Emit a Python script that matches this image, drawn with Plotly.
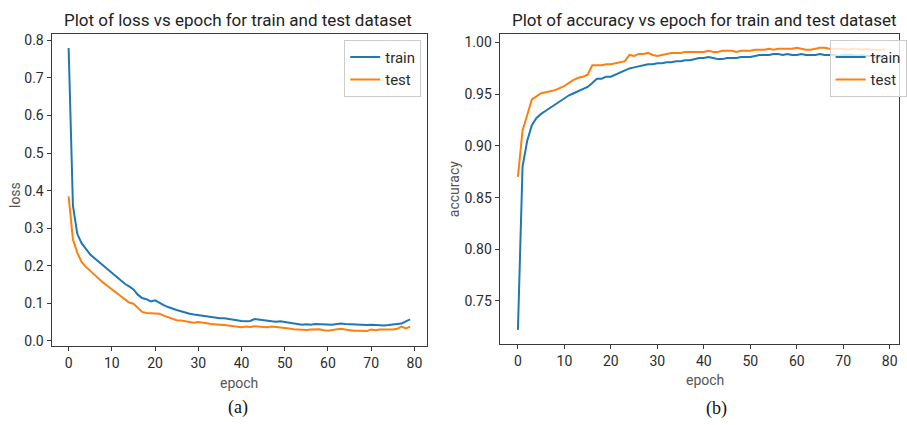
import plotly.graph_objects as go

epochs = list(range(80))

loss_train = [0.78, 0.36, 0.285, 0.26, 0.245, 0.23, 0.22, 0.21, 0.20, 0.19,
              0.18, 0.17, 0.16, 0.152, 0.145, 0.137, 0.123, 0.114, 0.111, 0.105,
              0.108, 0.101, 0.095, 0.09, 0.085, 0.082, 0.079, 0.075, 0.072, 0.07,
              0.068, 0.066, 0.064, 0.062, 0.06, 0.06, 0.06, 0.058, 0.057, 0.055,
              0.053, 0.052, 0.053, 0.058, 0.056, 0.055, 0.054, 0.052, 0.051, 0.052,
              0.05, 0.048, 0.046, 0.044, 0.043, 0.044, 0.043, 0.045, 0.044, 0.043,
              0.042, 0.043, 0.045, 0.046, 0.045, 0.044, 0.043, 0.043, 0.042, 0.042,
              0.043, 0.042, 0.041, 0.041, 0.042, 0.044, 0.045, 0.046, 0.052, 0.057]

loss_test = [0.385, 0.27, 0.235, 0.21, 0.197, 0.186, 0.175, 0.165, 0.155, 0.146,
             0.137, 0.128, 0.12, 0.11, 0.102, 0.099, 0.087, 0.077, 0.074, 0.073,
             0.073, 0.072, 0.067, 0.063, 0.058, 0.055, 0.054, 0.052, 0.05, 0.048,
             0.05, 0.049, 0.047, 0.045, 0.043, 0.043, 0.042, 0.041, 0.04, 0.038,
             0.036, 0.038, 0.037, 0.039, 0.037, 0.037, 0.036, 0.038, 0.037, 0.036,
             0.036, 0.033, 0.031, 0.03, 0.029, 0.029, 0.03, 0.03, 0.031, 0.028,
             0.027, 0.029, 0.031, 0.032, 0.03, 0.028, 0.027, 0.027, 0.027, 0.026,
             0.03, 0.028, 0.03, 0.03, 0.029, 0.03, 0.032, 0.038, 0.033, 0.038]

acc_train = [0.722, 0.88, 0.905, 0.92, 0.927, 0.931, 0.934, 0.937, 0.94, 0.943,
             0.946, 0.949, 0.951, 0.953, 0.955, 0.957, 0.961, 0.965, 0.965, 0.967,
             0.967, 0.969, 0.971, 0.973, 0.975, 0.976, 0.977, 0.978, 0.979, 0.979,
             0.98, 0.98, 0.981, 0.981, 0.982, 0.982, 0.983, 0.983, 0.984, 0.985,
             0.985, 0.986, 0.985, 0.984, 0.984, 0.985, 0.985, 0.985, 0.986, 0.986,
             0.986, 0.987, 0.988, 0.988, 0.988, 0.989, 0.989, 0.988, 0.989, 0.988,
             0.988, 0.989, 0.988, 0.988, 0.988, 0.989, 0.988, 0.988, 0.988, 0.987,
             0.988, 0.988, 0.988, 0.987, 0.988, 0.987, 0.987, 0.986, 0.986, 0.985]

acc_test = [0.87, 0.915, 0.93, 0.945, 0.948, 0.951, 0.952, 0.953, 0.954, 0.956,
            0.958, 0.961, 0.964, 0.966, 0.967, 0.969, 0.978, 0.978, 0.978, 0.979,
            0.979, 0.98, 0.981, 0.982, 0.988, 0.987, 0.989, 0.989, 0.99, 0.988,
            0.987, 0.988, 0.989, 0.99, 0.99, 0.99, 0.991, 0.991, 0.991, 0.991,
            0.991, 0.992, 0.991, 0.991, 0.992, 0.992, 0.992, 0.991, 0.992, 0.992,
            0.992, 0.993, 0.993, 0.993, 0.994, 0.993, 0.994, 0.994, 0.994, 0.994,
            0.995, 0.994, 0.993, 0.993, 0.994, 0.995, 0.995, 0.994, 0.994, 0.994,
            0.994, 0.993, 0.994, 0.994, 0.993, 0.994, 0.993, 0.993, 0.993, 0.993]

x_ticks = [0, 10, 20, 30, 40, 50, 60, 70, 80]
loss_ticks = [0.0, 0.1, 0.2, 0.3, 0.4, 0.5, 0.6, 0.7, 0.8]
acc_ticks = [0.75, 0.80, 0.85, 0.90, 0.95, 1.00]

BLUE = "#1f77b4"
ORANGE = "#ff7f0e"
FONT = "Roboto, DejaVu Sans, sans-serif"
TXT = "#2b2b2b"
W, H = 907, 425

fig = go.Figure()
fig.add_trace(go.Scatter(x=epochs, y=loss_train, mode="lines", name="train",
                         line=dict(color=BLUE, width=2), xaxis="x", yaxis="y", legend="legend"))
fig.add_trace(go.Scatter(x=epochs, y=loss_test, mode="lines", name="test",
                         line=dict(color=ORANGE, width=2), xaxis="x", yaxis="y", legend="legend"))
fig.add_trace(go.Scatter(x=epochs, y=acc_train, mode="lines", name="train",
                         line=dict(color=BLUE, width=2), xaxis="x2", yaxis="y2", legend="legend2"))
fig.add_trace(go.Scatter(x=epochs, y=acc_test, mode="lines", name="test",
                         line=dict(color=ORANGE, width=2), xaxis="x2", yaxis="y2", legend="legend2"))

def px_x(p):
    return p / W

def px_y(p):
    return (H - p) / H

axis_common = dict(showline=True, mirror=True, linecolor="#3a3a3a", linewidth=1,
                   ticks="outside", ticklen=4, tickcolor="#3a3a3a", showgrid=False,
                   zeroline=False, tickfont=dict(family=FONT, size=14, color=TXT))

fig.update_layout(
    width=W, height=H,
    margin=dict(l=0, r=0, t=0, b=0),
    paper_bgcolor="white", plot_bgcolor="white",
    xaxis=dict(domain=[px_x(52), px_x(431)], range=[-3.95, 82.95], tickvals=x_ticks,
               anchor="y", **axis_common),
    yaxis=dict(domain=[px_y(348), px_y(33)], range=[-0.013, 0.818], tickvals=loss_ticks,
               tickformat=".1f", anchor="x", **axis_common),
    xaxis2=dict(domain=[px_x(504), 1.0], range=[-3.95, 82.0], tickvals=x_ticks,
                anchor="y2", **axis_common),
    yaxis2=dict(domain=[px_y(346), px_y(33)], range=[0.7086, 1.0086], tickvals=acc_ticks,
                tickformat=".2f", anchor="x2", **axis_common),
    legend=dict(x=px_x(425), y=px_y(39), xanchor="right", yanchor="top",
                bgcolor="rgba(255,255,255,0.8)", bordercolor="#cccccc", borderwidth=1,
                font=dict(family=FONT, size=15, color=TXT), itemwidth=30,
                tracegroupgap=0),
    legend2=dict(x=px_x(837), y=px_y(39), xanchor="left", yanchor="top",
                 bgcolor="rgba(255,255,255,0.8)", bordercolor="#cccccc", borderwidth=1,
                 font=dict(family=FONT, size=15, color=TXT), itemwidth=30,
                 tracegroupgap=0),
    showlegend=True,
)

annots = [
    dict(text="Plot of loss vs epoch for train and test dataset", x=px_x(240), y=px_y(19),
         font=dict(family=FONT, size=17, color="#222")),
    dict(text="Plot of accuracy vs epoch for train and test dataset", x=px_x(710), y=px_y(19),
         font=dict(family=FONT, size=17, color="#222")),
    dict(text="epoch", x=px_x(241), y=px_y(386), font=dict(family=FONT, size=14, color="#555")),
    dict(text="epoch", x=px_x(711), y=px_y(383), font=dict(family=FONT, size=14, color="#555")),
    dict(text="loss", x=px_x(15), y=px_y(196), textangle=-90,
         font=dict(family=FONT, size=14, color="#555")),
    dict(text="accuracy", x=px_x(458), y=px_y(190), textangle=-90,
         font=dict(family=FONT, size=14, color="#555")),
    dict(text="(a)", x=px_x(240), y=px_y(410),
         font=dict(family="Liberation Serif, Times New Roman, serif", size=18, color="#111")),
    dict(text="(b)", x=px_x(723), y=px_y(411),
         font=dict(family="Liberation Serif, Times New Roman, serif", size=18, color="#111")),
]
for a in annots:
    fig.add_annotation(xref="paper", yref="paper", showarrow=False,
                       xanchor="center", yanchor="middle", **a)

fig.write_html("out.html")
